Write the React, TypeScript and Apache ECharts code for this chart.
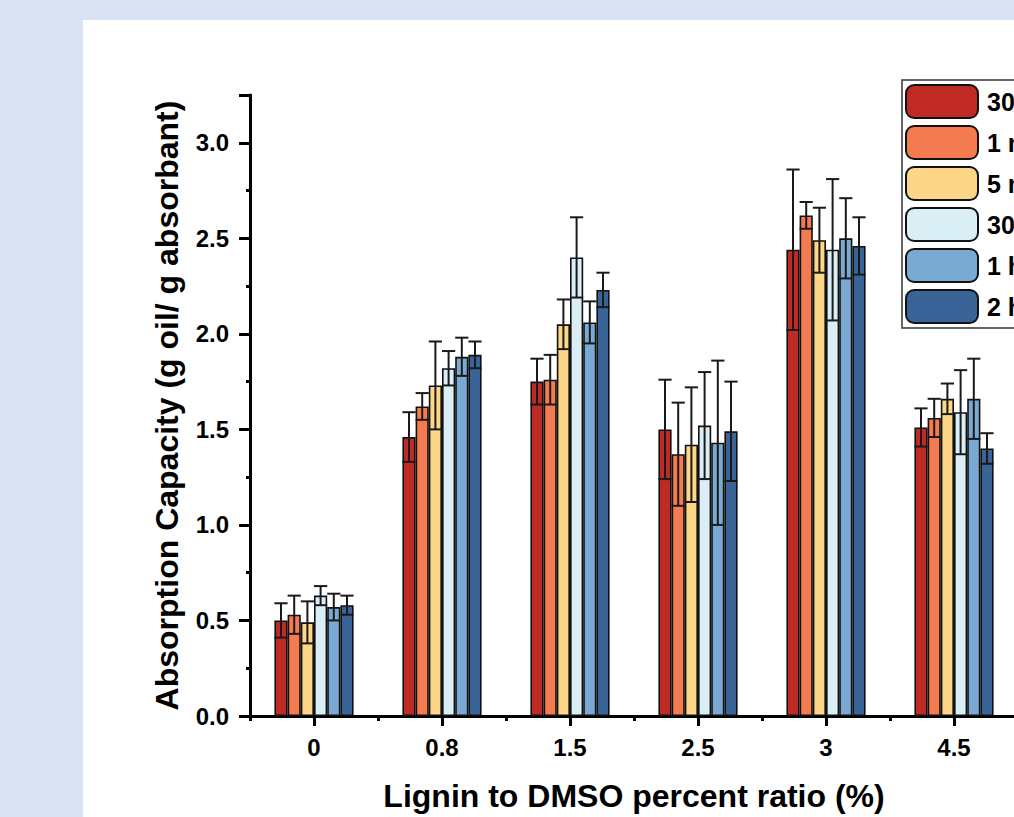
import React, { useEffect, useRef } from "react";
import * as echarts from "echarts";

const categories = ["0", "0.8", "1.5", "2.5", "3", "4.5"];
const seriesNames = ["30 s", "1 min", "5 min", "30 min", "1 h", "2 h"];
const seriesColors = ["#BF2A24", "#F47A4F", "#FDD787", "#D9EEF5", "#7AAAD2", "#3A6398"];

const valsS1 = [0.50, 1.46, 1.75, 1.50, 2.44, 1.51];
const valsS2 = [0.53, 1.62, 1.76, 1.37, 2.62, 1.56];
const valsS3 = [0.49, 1.73, 2.05, 1.42, 2.49, 1.66];
const valsS4 = [0.63, 1.82, 2.40, 1.52, 2.44, 1.59];
const valsS5 = [0.57, 1.88, 2.06, 1.43, 2.50, 1.66];
const valsS6 = [0.58, 1.89, 2.23, 1.49, 2.46, 1.40];

const errS1 = [0.09, 0.13, 0.12, 0.26, 0.42, 0.10];
const errS2 = [0.10, 0.07, 0.13, 0.27, 0.07, 0.10];
const errS3 = [0.11, 0.23, 0.13, 0.30, 0.17, 0.08];
const errS4 = [0.05, 0.09, 0.21, 0.28, 0.37, 0.22];
const errS5 = [0.07, 0.10, 0.11, 0.43, 0.21, 0.21];
const errS6 = [0.05, 0.07, 0.09, 0.26, 0.15, 0.08];

const allVals = [valsS1, valsS2, valsS3, valsS4, valsS5, valsS6];
const allErrs = [errS1, errS2, errS3, errS4, errS5, errS6];

const FONT = "'Liberation Sans', Arial, sans-serif";
const BAR_W = 13.2;

export default function App() {
  const ref = useRef<HTMLDivElement>(null);

  useEffect(() => {
    if (!ref.current) return;
    const chart = echarts.init(ref.current, undefined, { renderer: "svg" });

    const barSeries = seriesNames.map((name, i) => ({
      name,
      type: "bar",
      xAxisIndex: 0,
      yAxisIndex: 0,
      barWidth: BAR_W,
      barGap: "0%",
      data: allVals[i],
      itemStyle: { color: seriesColors[i], borderColor: "#111", borderWidth: 1.6 },
      z: 2,
    }));

    const errData: number[][] = [];
    allVals.forEach((vals, si) => {
      vals.forEach((v, ci) => {
        errData.push([ci, si, v, allErrs[si][ci]]);
      });
    });

    const errSeries = {
      type: "custom",
      name: "err",
      xAxisIndex: 0,
      yAxisIndex: 0,
      z: 10,
      encode: { x: 0, y: 2 },
      data: errData,
      renderItem: (params: any, api: any) => {
        const ci = api.value(0);
        const si = api.value(1);
        const v = api.value(2);
        const e = api.value(3);
        const base = api.coord([ci, v]);
        const cx = base[0] + (si - 2.5) * BAR_W;
        const yTop = api.coord([ci, v + e])[1];
        const yBot = api.coord([ci, v - e])[1];
        const half = BAR_W / 2;
        const style = { stroke: "#1a1a1a", lineWidth: 2 };
        return {
          type: "group",
          children: [
            { type: "line", shape: { x1: cx, y1: yTop, x2: cx, y2: yBot }, style },
            { type: "line", shape: { x1: cx - half, y1: yTop, x2: cx + half, y2: yTop }, style },
            { type: "line", shape: { x1: cx - half, y1: yBot, x2: cx + half, y2: yBot }, style },
          ],
        };
      },
    };

    const option: any = {
      animation: false,
      backgroundColor: "transparent",
      textStyle: { fontFamily: FONT },
      grid: { left: 250, top: 95, width: 768, height: 623, containLabel: false },
      legend: {
        show: true,
        data: seriesNames,
        orient: "vertical",
        left: 902,
        top: 80,
        itemWidth: 72,
        itemHeight: 33,
        itemGap: 6,
        padding: [4, 40, 4, 3],
        borderColor: "#333",
        borderWidth: 1.5,
        backgroundColor: "#fff",
        textStyle: {
          fontSize: 25,
          fontWeight: "bold",
          color: "#000",
          fontFamily: FONT,
          padding: [0, 0, 0, 4],
        },
      },
      xAxis: [
        {
          type: "category",
          data: categories,
          position: "bottom",
          axisLine: { show: true, lineStyle: { color: "#000", width: 3 } },
          axisTick: { show: true, alignWithLabel: true, length: 10, lineStyle: { color: "#000", width: 3 } },
          axisLabel: { fontSize: 24, fontWeight: "bold", color: "#000", margin: 19, fontFamily: FONT },
          splitLine: { show: false },
          name: "Lignin to DMSO percent ratio (%)",
          nameLocation: "middle",
          nameGap: 64,
          nameTextStyle: { fontSize: 32, fontWeight: "bold", color: "#000", fontFamily: FONT },
        },
        {
          type: "category",
          data: categories,
          position: "bottom",
          axisLine: { show: false },
          axisTick: { show: true, alignWithLabel: false, length: 5, lineStyle: { color: "#000", width: 3 } },
          axisLabel: { show: false },
          splitLine: { show: false },
        },
      ],
      yAxis: {
        type: "value",
        min: 0,
        max: 3.25,
        interval: 0.5,
        axisLine: { show: true, lineStyle: { color: "#000", width: 3 } },
        axisTick: { show: true, length: 11, lineStyle: { color: "#000", width: 3 } },
        minorTick: { show: true, splitNumber: 2, length: 4, lineStyle: { color: "#000", width: 3 } },
        axisLabel: {
          fontSize: 24,
          fontWeight: "bold",
          color: "#000",
          margin: 21,
          showMaxLabel: false,
          fontFamily: FONT,
          formatter: (v: number) => v.toFixed(1),
        },
        splitLine: { show: false },
        name: "Absorption Capacity (g oil/ g absorbant)",
        nameLocation: "middle",
        nameGap: 67,
        nameTextStyle: { fontSize: 32, fontWeight: "bold", color: "#000", fontFamily: FONT },
      },
      series: [...barSeries, errSeries],
    };

    chart.setOption(option);
    return () => chart.dispose();
  }, []);

  return (
    <div
      style={{
        position: "fixed",
        left: 0,
        top: 0,
        width: 1014,
        height: 817,
        overflow: "hidden",
        background: "#DAE3F3",
      }}
    >
      <div style={{ position: "absolute", left: 83, top: 20, right: 0, bottom: 0, background: "#fff" }} />
      <div ref={ref} style={{ position: "absolute", left: 0, top: 0, width: 1150, height: 817 }} />
    </div>
  );
}
